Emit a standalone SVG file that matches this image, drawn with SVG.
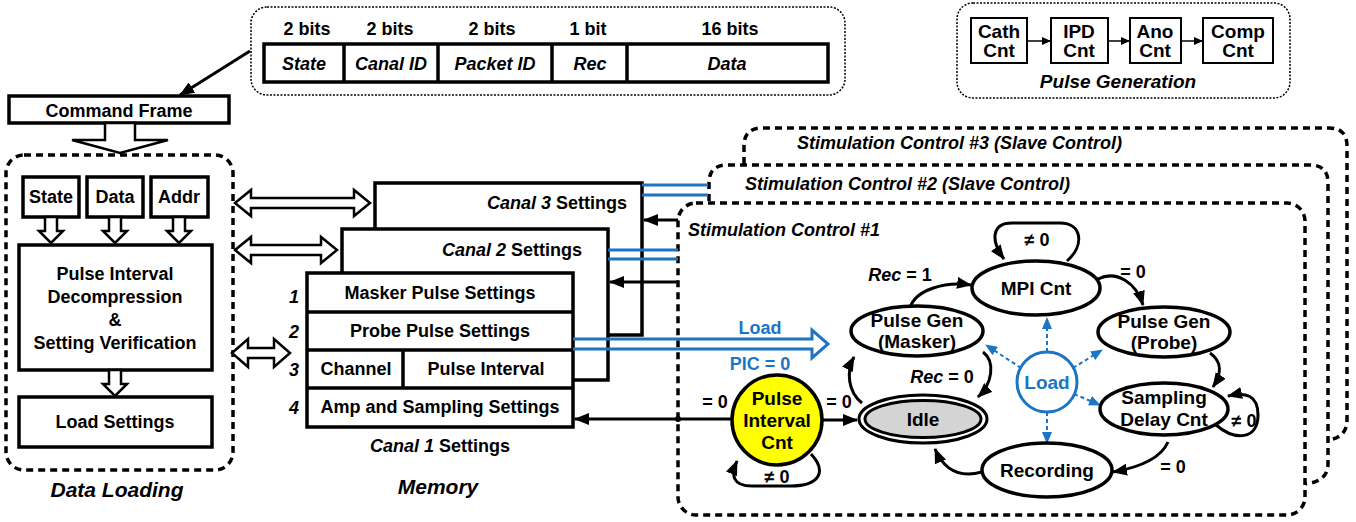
<svg xmlns="http://www.w3.org/2000/svg" width="1356" height="522" viewBox="0 0 1356 522">
<defs>
<style>
text{font-family:"Liberation Sans",Arial,sans-serif;font-weight:bold;fill:#000}
.t18{font-size:18px}
.t19{font-size:19px}
.t21{font-size:21px}
.c{text-anchor:middle}
.e{text-anchor:end}
.i{font-style:italic}
.blue{fill:#1c75c4}
.box{fill:#fff;stroke:#000;stroke-width:3.5}
.pbox{fill:#fff;stroke:#000;stroke-width:2}
.dot{fill:none;stroke:#000;stroke-width:1.5;stroke-dasharray:2 1.5}
.dash{fill:none;stroke:#000;stroke-width:3.5;stroke-dasharray:7 5}
.hol{fill:#fff;stroke:#000;stroke-width:2.5;stroke-linejoin:miter}
.ed{fill:none;stroke:#000;stroke-width:3}
.sm{fill:none;stroke:#000;stroke-width:1.5}
.bl{fill:none;stroke:#1c75c4;stroke-width:3}
.bd{fill:none;stroke:#1c75c4;stroke-width:2;stroke-dasharray:4 3}
.st{fill:#fff;stroke:#000;stroke-width:3.5}
</style>
<marker id="ah" markerUnits="userSpaceOnUse" markerWidth="16" markerHeight="12" refX="14" refY="6" orient="auto"><path d="M0,0 L15,6 L0,12 z" fill="#000"/></marker>
<marker id="sh" markerUnits="userSpaceOnUse" markerWidth="9" markerHeight="8" refX="8" refY="4" orient="auto"><path d="M0,0 L9,4 L0,8 z" fill="#000"/></marker>
<marker id="bh" markerUnits="userSpaceOnUse" markerWidth="12" markerHeight="10" refX="11" refY="5" orient="auto"><path d="M0,0 L12,5 L0,10 z" fill="#1c75c4"/></marker>
</defs>
<rect width="1356" height="522" fill="#fff"/>

<!-- Command frame format -->
<g id="frame-format">
<rect class="dot" x="251" y="7" width="594" height="88" rx="16"/>
<text class="t18 c" x="307" y="35">2 bits</text>
<text class="t18 c" x="390" y="35">2 bits</text>
<text class="t18 c" x="492" y="35">2 bits</text>
<text class="t18 c" x="588" y="35">1 bit</text>
<text class="t18 c" x="730" y="35">16 bits</text>
<rect x="264" y="44" width="564" height="38" fill="#fff" stroke="#000" stroke-width="3.5"/>
<path d="M344,44V82 M438,44V82 M552,44V82 M627,44V82" stroke="#000" stroke-width="3.5"/>
<text class="t18 c i" x="304" y="70">State</text>
<text class="t18 c i" x="391" y="70">Canal ID</text>
<text class="t18 c i" x="495" y="70">Packet ID</text>
<text class="t18 c i" x="590" y="70">Rec</text>
<text class="t18 c i" x="727" y="70">Data</text>
</g>

<!-- Pulse generation -->
<g id="pulse-generation">
<rect class="dot" x="957" y="3" width="333" height="95" rx="16"/>
<rect class="pbox" x="971" y="18" width="56" height="45"/>
<rect class="pbox" x="1051" y="18" width="57" height="45"/>
<rect class="pbox" x="1130" y="18" width="51" height="45"/>
<rect class="pbox" x="1203" y="18" width="70" height="45"/>
<text class="t19 c" x="999" y="38">Cath</text><text class="t19 c" x="999" y="57">Cnt</text>
<text class="t19 c" x="1079" y="38">IPD</text><text class="t19 c" x="1079" y="57">Cnt</text>
<text class="t19 c" x="1155" y="38">Ano</text><text class="t19 c" x="1155" y="57">Cnt</text>
<text class="t19 c" x="1238" y="38">Comp</text><text class="t19 c" x="1238" y="57">Cnt</text>
<text class="t19 c i" x="1118" y="88">Pulse Generation</text>
<path class="sm" d="M1027,41H1050" marker-end="url(#sh)"/>
<path class="sm" d="M1108,41H1129" marker-end="url(#sh)"/>
<path class="sm" d="M1181,41H1202" marker-end="url(#sh)"/>
</g>

<!-- Command Frame -->
<g id="command-frame">
<rect class="box" x="9" y="96" width="220" height="27"/>
<text class="t18 c" x="119" y="117">Command Frame</text>
</g>

<!-- Data Loading -->
<g id="data-loading">
<rect class="dash" x="6" y="155" width="227" height="315" rx="18"/>
<rect class="box" x="23" y="177" width="56" height="40"/>
<rect class="box" x="87" y="177" width="56" height="40"/>
<rect class="box" x="151" y="177" width="57" height="40"/>
<text class="t18 c" x="51" y="203">State</text>
<text class="t18 c" x="115" y="203">Data</text>
<text class="t18 c" x="179" y="203">Addr</text>
<polygon class="hol" points="45,217 57,217 57,231 63,231 51,243 39,231 45,231"/>
<polygon class="hol" points="109,217 121,217 121,231 127,231 115,243 103,231 109,231"/>
<polygon class="hol" points="173,217 185,217 185,231 191,231 179,243 167,231 173,231"/>
<rect class="box" x="19" y="245" width="193" height="125"/>
<text class="t18 c" x="115" y="280">Pulse Interval</text>
<text class="t18 c" x="115" y="303">Decompression</text>
<text class="t18 c" x="115" y="326">&amp;</text>
<text class="t18 c" x="115" y="349">Setting Verification</text>
<polygon class="hol" points="109,370 121,370 121,384 127,384 115,396 103,384 109,384"/>
<rect class="box" x="19" y="397" width="193" height="50"/>
<text class="t18 c" x="115" y="428">Load Settings</text>
<text class="t21 c i" x="117" y="497">Data Loading</text>
</g>

<!-- Memory -->
<g id="canal3">
<rect class="box" x="375" y="183" width="267" height="152"/>
<text class="t18 e" x="627" y="209"><tspan class="i">Canal 3</tspan> Settings</text>
</g>
<g id="canal2">
<rect class="box" x="342" y="229" width="266" height="151"/>
<text class="t18 e" x="582" y="256"><tspan class="i">Canal 2</tspan> Settings</text>
</g>
<g id="canal1">
<rect class="box" x="307" y="273" width="266" height="154"/>
<path d="M307,312H573 M307,350H573 M307,388H573 M403,350V388" stroke="#000" stroke-width="3.5"/>
<text class="t18 c" x="440" y="299">Masker Pulse Settings</text>
<text class="t18 c" x="440" y="337">Probe Pulse Settings</text>
<text class="t18 c" x="356" y="375">Channel</text>
<text class="t18 c" x="486" y="375">Pulse Interval</text>
<text class="t18 c" x="440" y="413">Amp and Sampling Settings</text>
<text class="t18 c i" x="294" y="303">1</text>
<text class="t18 c i" x="294" y="338">2</text>
<text class="t18 c i" x="294" y="376">3</text>
<text class="t18 c i" x="294" y="414">4</text>
<text class="t18 c" x="440" y="452"><tspan class="i">Canal 1</tspan> Settings</text>
</g>
<text class="t21 c i" x="438" y="494">Memory</text>

<!-- Stimulation controls -->
<g id="stim3">
<path class="dash" d="M744,164 L744,146 Q744,128 762,128 L1329,128 Q1347,128 1347,146 L1347,420 Q1347,437 1329,440"/>
<text class="t18 i" x="797" y="149">Stimulation Control #3 (Slave Control)</text>
</g>
<g id="stim2">
<path class="dash" d="M709,201 L709,183 Q709,165 727,165 L1310,165 Q1328,165 1328,183 L1328,464 Q1328,481 1306,484"/>
<text class="t18 i" x="745" y="190">Stimulation Control #2 (Slave Control)</text>
</g>
<g id="stim1">
<rect class="dash" x="678" y="203" width="627" height="312" rx="18"/>
<text class="t18 i" x="688" y="236">Stimulation Control #1</text>
</g>

<!-- Connectors -->
<g id="connectors">
<path d="M250,51 L180,95" class="ed" marker-end="url(#ah)"/>
<polygon class="hol" points="105,123 135,123 135,140 168,140 120,153 72,140 105,140"/>
<polygon class="hol" points="235,203 251,190 251,198 354,198 354,190 370,203 354,216 354,208 251,208 251,216"/>
<polygon class="hol" points="235,250 251,237 251,245 321,245 321,237 337,250 321,263 321,255 251,255 251,263"/>
<polygon class="hol" points="232,353 248,339 248,348 274,348 274,339 290,353 274,367 274,358 248,358 248,367"/>
<path class="bl" d="M642,185H708 M642,195H708"/>
<path class="bl" d="M608,250H678 M608,259H678"/>
<path class="ed" d="M678,220H644" marker-end="url(#ah)"/>
<path class="ed" d="M678,282H610" marker-end="url(#ah)"/>
<path class="bl" d="M573,339 L812,339 L812,330 L828,344 L812,358 L812,349 L573,349" fill="#fff"/>
<text class="t18 c blue" x="760" y="334">Load</text>
<text class="t18 c blue" x="760" y="370">PIC = 0</text>
<path class="ed" d="M733,419H575" marker-end="url(#ah)"/>
<circle cx="678" cy="419" r="3" fill="#000"/>
<text class="t18 c" x="715" y="408">= 0</text>
<path class="ed" d="M822,420H857" marker-end="url(#ah)"/>
<text class="t18 c" x="839" y="408">= 0</text>
<path class="ed" d="M811,454 C826,470 822,486 790,486 L752,486 C732,486 731,475 737,461" marker-end="url(#ah)"/>
<text class="t18 c" x="777" y="483">≠ 0</text>
<path class="ed" d="M862,403 C848,392 846,372 854,357" marker-end="url(#ah)"/>
<path class="ed" d="M983,352 C996,362 992,384 978,397" marker-end="url(#ah)"/>
<text class="t18 c" x="942" y="383"><tspan class="i">Rec</tspan> = 0</text>
<path class="ed" d="M910,308 C915,290 945,281 971,285" marker-end="url(#ah)"/>
<text class="t18 c" x="900" y="281"><tspan class="i">Rec</tspan> = 1</text>
<path class="ed" d="M1067,261 C1085,245 1082,223 1060,223 L1012,223 C992,223 990,240 1004,259" marker-end="url(#ah)"/>
<text class="t18 c" x="1037" y="246">≠ 0</text>
<path class="ed" d="M1098,279 C1116,270 1136,282 1143,305" marker-end="url(#ah)"/>
<text class="t18 c" x="1133" y="278">= 0</text>
<path class="ed" d="M1210,353 C1223,362 1221,375 1213,387" marker-end="url(#ah)"/>
<path class="ed" d="M1216,425 C1235,441 1258,440 1258,415 C1258,395 1246,392 1228,396" marker-end="url(#ah)"/>
<text class="t18 c" x="1244" y="427">≠ 0</text>
<path class="ed" d="M1168,442 C1160,460 1136,468 1113,472" marker-end="url(#ah)"/>
<text class="t18 c" x="1173" y="473">= 0</text>
<path class="ed" d="M982,472 C960,478 944,470 935,449" marker-end="url(#ah)"/>
<path class="bd" d="M1047,352V318" marker-end="url(#bh)"/>
<path class="bd" d="M1047,412V443" marker-end="url(#bh)"/>
<path class="bd" d="M1021,368L986,345" marker-end="url(#bh)"/>
<path class="bd" d="M1073,368L1102,350" marker-end="url(#bh)"/>
<path class="bd" d="M1074,394L1100,405" marker-end="url(#bh)"/>
</g>

<!-- State nodes -->
<g id="pulse-interval-cnt">
<circle cx="777" cy="420" r="45" fill="#ffff00" stroke="#000" stroke-width="3.5"/>
<text class="t19 c" x="777" y="405">Pulse</text>
<text class="t19 c" x="777" y="427">Interval</text>
<text class="t19 c" x="777" y="449">Cnt</text>
</g>
<g id="idle">
<ellipse cx="923" cy="419" rx="64" ry="24" fill="#fff" stroke="#000" stroke-width="3"/>
<ellipse cx="923" cy="419" rx="58" ry="18.5" fill="#d4d4d4" stroke="#000" stroke-width="3"/>
<text class="t19 c" x="923" y="426">Idle</text>
</g>
<g id="pulse-gen-masker">
<ellipse class="st" cx="917" cy="331" rx="66" ry="25"/>
<text class="t19 c" x="917" y="327">Pulse Gen</text>
<text class="t19 c" x="917" y="348">(Masker)</text>
</g>
<g id="mpi-cnt">
<ellipse class="st" cx="1036" cy="288" rx="64" ry="27"/>
<text class="t19 c" x="1036" y="295">MPI Cnt</text>
</g>
<g id="pulse-gen-probe">
<ellipse class="st" cx="1164" cy="332" rx="66" ry="25"/>
<text class="t19 c" x="1164" y="328">Pulse Gen</text>
<text class="t19 c" x="1164" y="349">(Probe)</text>
</g>
<g id="sampling-delay-cnt">
<ellipse class="st" cx="1164" cy="409" rx="64" ry="26"/>
<text class="t19 c" x="1164" y="404">Sampling</text>
<text class="t19 c" x="1164" y="426">Delay Cnt</text>
</g>
<g id="recording">
<ellipse class="st" cx="1047" cy="470" rx="65" ry="27"/>
<text class="t19 c" x="1047" y="477">Recording</text>
</g>
<g id="load">
<circle cx="1047" cy="382" r="30" fill="#fff" stroke="#1c75c4" stroke-width="3"/>
<text class="t19 c blue" x="1047" y="389">Load</text>
</g>
</svg>
